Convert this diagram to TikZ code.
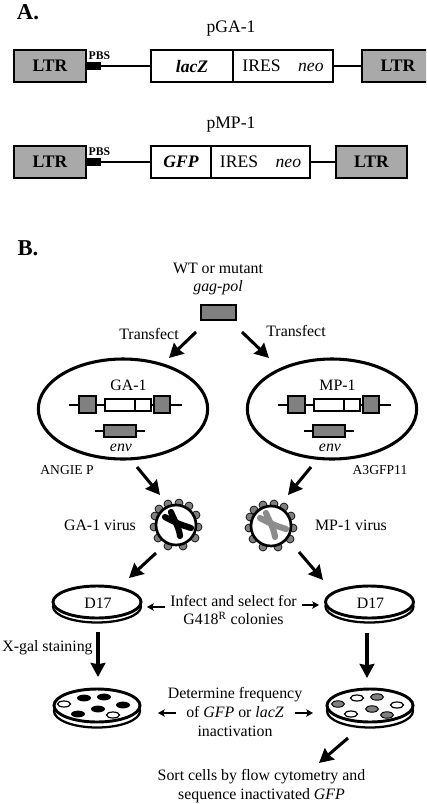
\documentclass[tikz,border=0pt]{standalone}
\usepackage{fontspec}
\setmainfont{Liberation Serif}
\usetikzlibrary{arrows.meta,shapes.geometric}
% font sizes in points; one drawing unit is 0.75pt
\newcommand{\fsHead}{\fontsize{17}{20}\selectfont\bfseries}
\newcommand{\fsBig}{\fontsize{13.2}{15}\selectfont}
\newcommand{\fsText}{\fontsize{11.9}{14.2}\selectfont}
\newcommand{\fsSmall}{\fontsize{10.2}{12}\selectfont}
\newcommand{\fsPbs}{\fontsize{8.8}{10}\selectfont\bfseries}
% box between two corners: name, style, x1, y1, x2, y2, text
\newcommand{\cornerbox}[7]{%
  \pgfmathsetmacro{\bw}{(#5-#3)*0.75}\pgfmathsetmacro{\bh}{(#6-#4)*0.75}%
  \node[#2,minimum width=\bw pt,minimum height=\bh pt] (#1) at ({(#3+#5)/2},{(#4+#6)/2}) {#7};}
% virus particle: name, centre, chromosome colour
\newcommand{\virusparticle}[3]{%
  \begin{scope}[shift={(#2)}]
    \foreach \sx/\sy in {-8/-21,3/-22,13/-19,20/-10,22/2,19/13,7/21,-8/21,-18/13,-22/2,-21/-9,-17/-16}
      \fill[spikefill,draw=black,line width=0.5pt] (\sx,\sy) circle[radius=4];
    \node[circle,draw=black,line width=2pt,fill=white,minimum size=30pt,inner sep=0,outer sep=0] (#1) at (0,0) {};
    \draw[#3,line width=4.6pt,line cap=round] (-11,-8) .. controls (-4,-4) and (5,0) .. (15,3);
    \draw[#3,line width=4.6pt,line cap=round] (-5,-13) .. controls (-2,-5) and (3,2) .. (4,11);
  \end{scope}}
\definecolor{ltrgray}{HTML}{A9A9A9}
\definecolor{dark}{HTML}{808080}
\definecolor{spikefill}{HTML}{7E7E7E}
\definecolor{chromgray}{HTML}{8C8C8C}
\tikzset{
  every node/.style={inner sep=0,outer sep=0,align=center,font=\fsText},
  ltrbox/.style={draw=black,line width=1.7pt,fill=ltrgray,font=\fsBig\bfseries},
  genebox/.style={draw=black,line width=1.7pt,fill=white,font=\fsBig},
  pbsbox/.style={fill=black},
  dna/.style={line width=1.4pt},
  gbox/.style={draw=black,line width=1pt,fill=dark},
  wbox/.style={draw=black,line width=1pt,fill=white},
  thinline/.style={line width=2.2pt},
  bigarrow/.style={line width=2.3pt,-{Stealth[length=10.5pt,width=11pt,inset=0.9pt]}},
  smallarrow/.style={line width=1pt,-{Stealth[length=5pt,width=5.5pt,inset=1pt]}},
  cell/.style={ellipse,draw=black,line width=2.3pt},
  dishtop/.style={draw=black,line width=2.2pt,fill=white},
  dishrim/.style={draw=black,line width=1.7pt,fill=white},
}
\begin{document}
\begin{tikzpicture}[x=0.75pt,y=-0.75pt]
\useasboundingbox (0,0) rectangle (426,804);
\clip (0,0) rectangle (426,804);
\fill[white] (0,0) rectangle (426,804);

% ---------- panel A ----------
\node[font=\fsHead] (labA) at (28,12) {A.};
\node[font=\fsBig] (pga) at (231,29) {pGA-1};
\cornerbox{ltrA}{ltrbox}{14}{50}{86}{82}{LTR}
\cornerbox{pbsA}{pbsbox}{86}{62}{101}{70}{}
\node[font=\fsPbs] (pbstA) at (99.5,56) {PBS};
\cornerbox{lacz}{genebox}{151}{50}{233}{82}{\bfseries\itshape lacZ}
\cornerbox{iresA}{genebox}{233}{50}{333}{82}{IRES\hspace{1em}\itshape neo}
\cornerbox{ltrB}{ltrbox}{362}{50}{434}{82}{LTR}
\draw[dna] (pbsA.east) -- (lacz.west);
\draw[dna] (iresA.east) -- (ltrB.west);

\node[font=\fsBig] (pmp) at (231,125) {pMP-1};
\cornerbox{ltrC}{ltrbox}{14}{146}{86}{178}{LTR}
\cornerbox{pbsC}{pbsbox}{86}{158}{101}{166}{}
\node[font=\fsPbs] (pbstC) at (99.5,152) {PBS};
\cornerbox{gfp}{genebox}{151}{146}{211}{178}{\bfseries\itshape GFP}
\cornerbox{iresC}{genebox}{211}{146}{310}{178}{IRES\hspace{1em}\itshape neo}
\cornerbox{ltrD}{ltrbox}{336}{146}{407}{178}{LTR}
\draw[dna] (pbsC.east) -- (gfp.west);
\draw[dna] (iresC.east) -- (ltrD.west);

% ---------- panel B, top ----------
\node[font=\fsHead] (labB) at (28,248) {B.};
\node (wt) at (218,279) {WT or mutant\\\itshape gag-pol};
\cornerbox{gag}{gbox}{201}{305}{236}{320}{}
\node (trL) at (149,334) {Transfect};
\node (trR) at (296,331) {Transfect};

% cells with their provirus and env constructs
\node[cell,minimum width=127pt,minimum height=75pt] (cellL) at (123,409) {};
\node[cell,minimum width=127pt,minimum height=75pt] (cellR) at (332,409) {};
\coordinate (aLs) at (196,332); \coordinate (aLe) at (169,358);
\coordinate (aRs) at (242,332); \coordinate (aRe) at (269,358);
\draw[bigarrow] (aLs) -- (aLe);
\draw[bigarrow] (aRs) -- (aRe);

\foreach \dx/\nm/\tx in {0/L/GA-1,209/R/MP-1}{
  \begin{scope}[xshift=\dx*0.75pt]
    \coordinate (pl\nm) at (69,405); \coordinate (pr\nm) at (182,405);
    \draw[thinline] (pl\nm) -- (pr\nm);
    \cornerbox{g1\nm}{gbox}{79}{396}{96}{413}{}
    \cornerbox{w1\nm}{wbox}{105}{399}{135}{411}{}
    \cornerbox{w2\nm}{wbox}{135}{399}{151}{411}{}
    \cornerbox{g2\nm}{gbox}{154}{396}{170}{413}{}
    \coordinate (el\nm) at (95,431); \coordinate (er\nm) at (145,431);
    \draw[thinline] (el\nm) -- (er\nm);
    \cornerbox{env\nm}{gbox}{104}{425}{136}{437}{}
    \node (ttl\nm) at (128.5,385.5) {\tx};
    \node (envt\nm) at (121,448) {\itshape env};
  \end{scope}
}
\node[font=\fsSmall] (angie) at (67,470) {ANGIE P};
\node[font=\fsSmall] (a3) at (380,470) {A3GFP11};

% ---------- viruses ----------
\virusparticle{virL}{176,525}{black}
\virusparticle{virR}{271,526}{chromgray}
\node (vtL) at (100,525) {GA-1 virus};
\node (vtR) at (351,525) {MP-1 virus};
\coordinate (b1s) at (137,467); \coordinate (b1e) at (160,495);
\coordinate (b2s) at (311,467); \coordinate (b2e) at (288,495);
\draw[bigarrow] (b1s) -- (b1e);
\draw[bigarrow] (b2s) -- (b2e);
\coordinate (c1s) at (156,553); \coordinate (c1e) at (129,578);
\coordinate (c2s) at (299,552); \coordinate (c2e) at (323,580);
\draw[bigarrow] (c1s) -- (c1e);
\draw[bigarrow] (c2s) -- (c2e);

% ---------- D17 dishes ----------
\foreach \cx/\nm in {97/L,369.5/R}{
  \draw[dishrim] (\cx,606.5) ellipse[x radius=44,y radius=16];
  \draw[dishtop] (\cx,602) ellipse[x radius=44,y radius=16];
  \node (d\nm) at (\cx+1,603) {D17};
}
\node (infect) at (233.5,610) {Infect and select for\\G418\textsuperscript{R} colonies};
\coordinate (iLs) at (165,607); \coordinate (iLe) at (147,607);
\coordinate (iRs) at (302,605); \coordinate (iRe) at (319,605);
\draw[smallarrow] (iLs) -- (iLe);
\draw[smallarrow] (iRs) -- (iRe);

\coordinate (vLs) at (98,632); \coordinate (vLe) at (98,677);
\coordinate (vRs) at (367,633); \coordinate (vRe) at (367,678);
\draw[bigarrow] (vLs) -- (vLe);
\draw[bigarrow] (vRs) -- (vRe);
\node (xgal) at (47.5,648) {X-gal staining};

% ---------- colony plates ----------
\foreach \cx in {97,370}{
  \draw[dishrim] (\cx,711) ellipse[x radius=43,y radius=16.5];
  \draw[dishtop] (\cx,705.5) ellipse[x radius=43,y radius=16.5];
}
\foreach \sx/\sy in {84/698,104/697,123/705,78/714,98/709}
  \fill[black] (\sx,\sy) ellipse[x radius=7,y radius=3.4];
\foreach \sx/\sy in {64/704,113/715}
  \draw[black,line width=0.9pt,fill=white] (\sx,\sy) ellipse[x radius=6.5,y radius=3];
\foreach \sx/\sy in {338/704,377/697,372/709,387/715}
  \draw[black,line width=0.7pt,fill=dark] (\sx,\sy) ellipse[x radius=6.5,y radius=3.2];
\foreach \sx/\sy in {357/698,351/714,397/705}
  \draw[black,line width=0.9pt,fill=white] (\sx,\sy) ellipse[x radius=6.5,y radius=3];

\node (det) at (235,712) {Determine frequency\\of {\itshape GFP} or {\itshape lacZ}\\inactivation};
\coordinate (dLs) at (176,713); \coordinate (dLe) at (158,713);
\coordinate (dRs) at (295,713); \coordinate (dRe) at (313,713);
\draw[smallarrow] (dLs) -- (dLe);
\draw[smallarrow] (dRs) -- (dRe);

\coordinate (sortS) at (348,738); \coordinate (sortE) at (319,763);
\draw[bigarrow] (sortS) -- (sortE);
\node (sort) at (261.5,786.5) {Sort cells by flow cytometry and\\sequence inactivated {\itshape GFP}};
\end{tikzpicture}
\end{document}
